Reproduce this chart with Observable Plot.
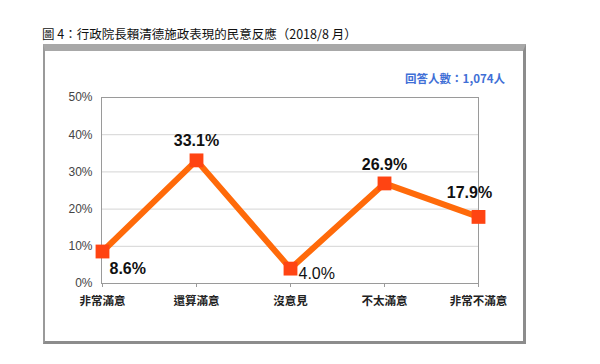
<!DOCTYPE html>
<html>
<head>
<meta charset="utf-8">
<script src="https://cdn.jsdelivr.net/npm/d3@7"></script>
<script src="https://cdn.jsdelivr.net/npm/@observablehq/plot@0.6"></script>
<style>
  html, body { margin: 0; padding: 0; background: #fff; }
  #wrap { position: relative; width: 600px; height: 364px; overflow: hidden; font-family: "Noto Sans CJK TC", "Liberation Sans", sans-serif; }
  #title { position: absolute; left: 42px; top: 24px; font-size: 12.5px; color: #111; white-space: nowrap; }
  #box { position: absolute; left: 43px; top: 44px; width: 478px; height: 290px; border: 2px solid #9a9a9a; border-top: 7px solid #a8a8a8; border-right: 3px solid #8c8c8c; border-bottom: 3px solid #8c8c8c; box-sizing: content-box; }
  #n { position: absolute; right: 95px; top: 70px; font-size: 11.5px; font-weight: bold; color: #3f6fd6; white-space: nowrap; }
  #chart { position: absolute; left: 0; top: 0; }
</style>
</head>
<body>
<div id="wrap">
  <div id="box"></div>
  <div id="title">圖 4：行政院長賴清德施政表現的民意反應（2018/8 月）</div>
  <div id="n">回答人數：1,074人</div>
  <div id="chart"></div>
</div>
<script>
const categories = ["非常滿意", "還算滿意", "沒意見", "不太滿意", "非常不滿意"];
const values = [8.6, 33.1, 4.0, 26.9, 17.9];
const yTicks = [0, 10, 20, 30, 40, 50];

const data = categories.map((c, i) => ({category: c, value: values[i]}));

// label placement (layout only)
const labelLayout = {
  "非常滿意":   {dx: 7,  dy: 17,  anchor: "start",  weight: "bold"},
  "還算滿意":   {dx: 0,  dy: -19, anchor: "middle", weight: "bold"},
  "沒意見":     {dx: 8,  dy: 5,   anchor: "start",  weight: "normal"},
  "不太滿意":   {dx: 0,  dy: -19, anchor: "middle", weight: "bold"},
  "非常不滿意": {dx: -9, dy: -24, anchor: "middle", weight: "bold"}
};

const labelMarks = data.map(d => {
  const L = labelLayout[d.category];
  return Plot.text([d], {
    x: "category", y: "value",
    text: v => v.value.toFixed(1) + "%",
    dx: L.dx, dy: L.dy, textAnchor: L.anchor,
    fontWeight: L.weight, fontSize: 16, fill: "#111",
    fontFamily: "Liberation Sans, Arial, sans-serif"
  });
});

const chart = Plot.plot({
  width: 600,
  height: 364,
  marginLeft: 101,
  marginRight: 122,
  marginTop: 97,
  marginBottom: 81,
  style: {background: "transparent", fontFamily: "Liberation Sans, Arial, sans-serif"},
  x: {type: "point", domain: categories, padding: 0, label: null},
  y: {domain: [0, 50], ticks: yTicks, label: null},
  marks: [
    Plot.gridY(yTicks, {stroke: "#d4d4d4", strokeOpacity: 1}),
    Plot.frame({stroke: "#9a9a9a"}),
    Plot.axisY(yTicks, {tickSize: 0, tickPadding: 9, tickFormat: d => d + "%", fontSize: 12, fill: "#444", label: null}),
    Plot.axisX({tickSize: 4, tickPadding: 9, fontSize: 11.5, fill: "#222", stroke: "#9a9a9a", label: null,
      fontFamily: "Noto Sans CJK TC, sans-serif", fontWeight: "bold"}),
    Plot.line(data, {x: "category", y: "value", stroke: "#ff6a0a", strokeWidth: 6, strokeLinejoin: "miter"}),
    Plot.dot(data, {x: "category", y: "value", symbol: "square", r: 7.8, fill: "#ff4412", stroke: "none"}),
    ...labelMarks
  ]
});
document.getElementById("chart").appendChild(chart);
</script>
</body>
</html>
